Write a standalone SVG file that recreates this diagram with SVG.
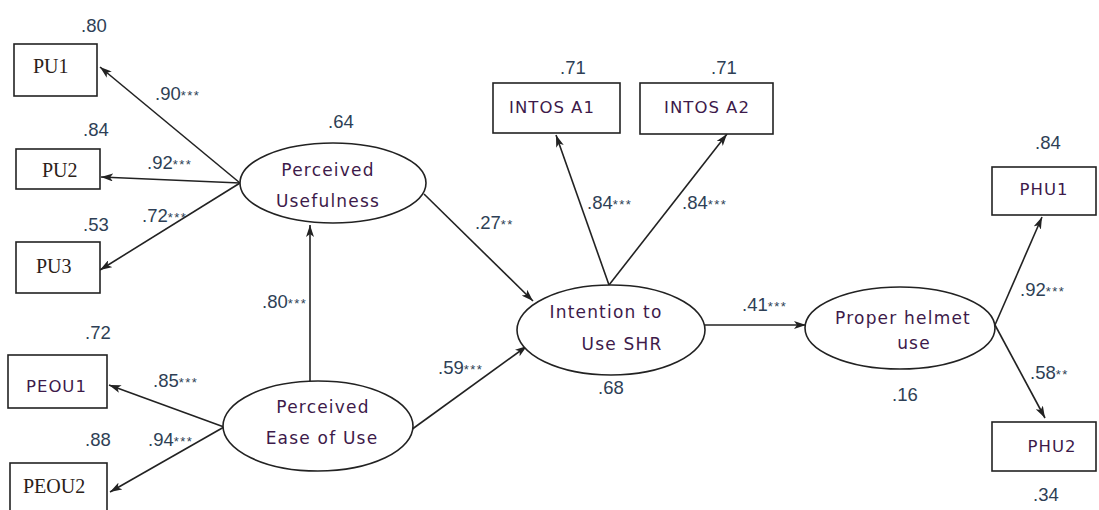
<svg xmlns="http://www.w3.org/2000/svg" width="1099" height="510" viewBox="0 0 1099 510">
<defs>
<marker id="ah" markerUnits="userSpaceOnUse" markerWidth="12" markerHeight="8" viewBox="0 0 12 8" refX="12" refY="4" orient="auto">
<path d="M0,0 L12,4 L0,8 L3,4 z" fill="#222"/>
</marker>
<style>
.box{fill:#fff;stroke:#222;stroke-width:1.6}
.ell{fill:#fff;stroke:#222;stroke-width:1.6}
.serif{font-family:"Liberation Serif","Times New Roman",serif;font-size:20px;fill:#2b2118}
.sans{font-family:"DejaVu Sans",Verdana,sans-serif;font-size:17px;fill:#3d1a4a;letter-spacing:1.2px}
.lab{font-family:"DejaVu Sans",Verdana,sans-serif;font-size:16.5px;fill:#3d1a4a;letter-spacing:1px}
.num{font-family:"Liberation Sans Narrow","Liberation Sans",Arial,sans-serif;font-size:18.5px;fill:#2e3f55}
.s{font-size:13px;letter-spacing:1.5px}
.c{fill:none;stroke:#222;stroke-width:1.6;marker-end:url(#ah)}
</style>
</defs>
<g id="connectors">
<line class="c" x1="240" y1="183" x2="100" y2="67"/>
<line class="c" x1="240" y1="183" x2="101" y2="177"/>
<line class="c" x1="240" y1="183" x2="100" y2="270"/>
<line class="c" x1="224" y1="427" x2="109" y2="385"/>
<line class="c" x1="224" y1="427" x2="110" y2="492"/>
<line class="c" x1="310" y1="381" x2="310" y2="225"/>
<line class="c" x1="424" y1="194" x2="533" y2="301"/>
<line class="c" x1="411" y1="430" x2="527" y2="346"/>
<line class="c" x1="609" y1="285" x2="556" y2="135"/>
<line class="c" x1="609" y1="285" x2="727" y2="134"/>
<line class="c" x1="705" y1="325" x2="806" y2="325"/>
<line class="c" x1="995" y1="325" x2="1042" y2="217"/>
<line class="c" x1="995" y1="325" x2="1045" y2="418"/>
</g>
<g id="PU1"><rect class="box" x="14" y="44" width="83" height="52"/><text class="serif" x="33" y="73">PU1</text></g>
<g id="PU2"><rect class="box" x="16" y="149" width="84" height="40"/><text class="serif" x="42" y="177">PU2</text></g>
<g id="PU3"><rect class="box" x="16" y="242" width="84" height="51"/><text class="serif" x="36" y="273">PU3</text></g>
<g id="PEOU1"><rect class="box" x="8" y="355" width="99" height="53"/><text class="lab" x="26" y="392">PEOU1</text></g>
<g id="PEOU2"><rect class="box" x="10" y="463" width="97" height="50"/><text class="serif" x="23" y="493">PEOU2</text></g>
<g id="PerceivedUsefulness"><ellipse class="ell" cx="333" cy="183" rx="93" ry="40"/><text class="sans" x="328" y="176" text-anchor="middle">Perceived</text><text class="sans" x="328" y="207" text-anchor="middle">Usefulness</text></g>
<g id="PerceivedEase"><ellipse class="ell" cx="318" cy="426" rx="95" ry="45"/><text class="sans" x="323" y="413" text-anchor="middle">Perceived</text><text class="sans" x="322" y="444" text-anchor="middle">Ease of Use</text></g>
<g id="Intention"><ellipse class="ell" cx="611" cy="330" rx="94" ry="45"/><text class="sans" x="606" y="318" text-anchor="middle">Intention to</text><text class="sans" x="622" y="350" text-anchor="middle">Use SHR</text></g>
<g id="ProperHelmet"><ellipse class="ell" cx="900" cy="328" rx="95" ry="41"/><text class="sans" x="903" y="324" text-anchor="middle">Proper helmet</text><text class="sans" x="914" y="349" text-anchor="middle">use</text></g>
<g id="INTOSA1"><rect class="box" x="493" y="83" width="127" height="50"/><text class="lab" x="552" y="113" text-anchor="middle">INTOS A1</text></g>
<g id="INTOSA2"><rect class="box" x="640" y="83" width="133" height="51"/><text class="lab" x="707" y="113" text-anchor="middle">INTOS A2</text></g>
<g id="PHU1"><rect class="box" x="992" y="167" width="104" height="48"/><text class="lab" x="1044" y="195" text-anchor="middle">PHU1</text></g>
<g id="PHU2"><rect class="box" x="992" y="422" width="104" height="49"/><text class="lab" x="1052" y="452" text-anchor="middle">PHU2</text></g>
<g id="labels">
<text class="num" x="81" y="32">.80</text>
<text class="num" x="155" y="100">.90<tspan class="s">***</tspan></text>
<text class="num" x="83" y="136">.84</text>
<text class="num" x="147" y="169">.92<tspan class="s">***</tspan></text>
<text class="num" x="83" y="231">.53</text>
<text class="num" x="142" y="222">.72<tspan class="s">***</tspan></text>
<text class="num" x="328" y="128">.64</text>
<text class="num" x="475" y="229">.27<tspan class="s">**</tspan></text>
<text class="num" x="262" y="308">.80<tspan class="s">***</tspan></text>
<text class="num" x="85" y="339">.72</text>
<text class="num" x="153" y="387">.85<tspan class="s">***</tspan></text>
<text class="num" x="85" y="446">.88</text>
<text class="num" x="148" y="446">.94<tspan class="s">***</tspan></text>
<text class="num" x="438" y="374">.59<tspan class="s">***</tspan></text>
<text class="num" x="560" y="74">.71</text>
<text class="num" x="711" y="74">.71</text>
<text class="num" x="587" y="209">.84<tspan class="s">***</tspan></text>
<text class="num" x="682" y="209">.84<tspan class="s">***</tspan></text>
<text class="num" x="742" y="311">.41<tspan class="s">***</tspan></text>
<text class="num" x="598" y="394">.68</text>
<text class="num" x="1035" y="149">.84</text>
<text class="num" x="1020" y="296">.92<tspan class="s">***</tspan></text>
<text class="num" x="1030" y="379">.58<tspan class="s">**</tspan></text>
<text class="num" x="892" y="401">.16</text>
<text class="num" x="1033" y="501">.34</text>
</g>
</svg>
